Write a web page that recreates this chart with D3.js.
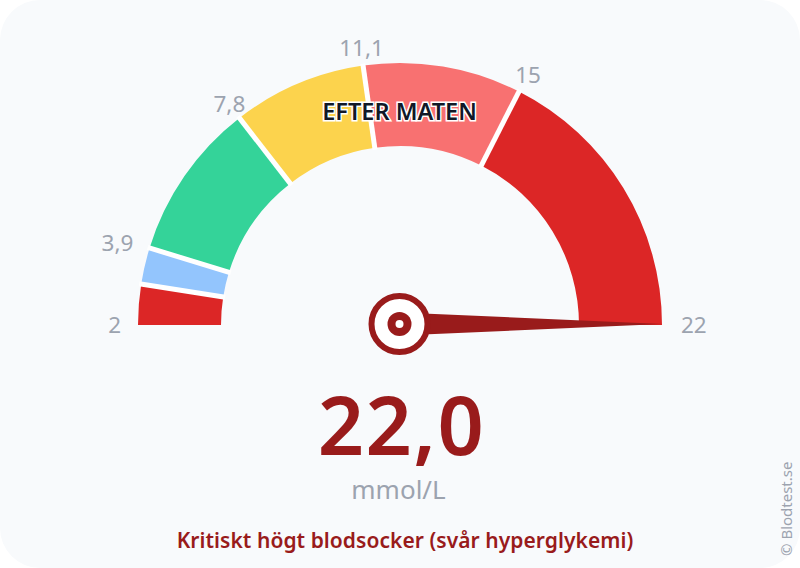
<!DOCTYPE html>
<html>
<head>
<meta charset="utf-8">
<script src="https://cdn.jsdelivr.net/npm/d3@7"></script>
<style>
html,body{margin:0;padding:0;background:#fff;}
svg{display:block;}
text{font-family:"Noto Sans",sans-serif;}
</style>
</head>
<body>
<div id="chart"></div>
<script>
var w=800;
var h=568;

// zone limits in mmol/L
var zoneLimits=[2,3,3.9,7.8,11.1,15,22];
var zoneColors=["#dc2626","#93c5fd","#34d399","#fcd34d","#f87171","#dc2626"];
var tickValues=[2,3.9,7.8,11.1,15,22];
var tickLabels=["2","3,9","7,8","11,1","15","22"];
var currentValue=22;
var currentLabel="22,0";
var unitLabel="mmol/L";
var mealLabel="EFTER MATEN";
var statusLabel="Kritiskt högt blodsocker (svår hyperglykemi)";
var creditLabel="© Blodtest.se";

var cx=400,cy=325;
var rOuter=262,rInner=179,rLabel=280;
var darkRed="#991b1b",grey="#9ca3af";

var svg=d3.select("#chart").append("svg")
 .attr("width",w)
 .attr("height",h);

svg.append("rect")
 .attr("width",w)
 .attr("height",h)
 .attr("rx",40)
 .attr("fill","#f8fafc");

var gauge=svg.append("g").attr("transform","translate("+cx+","+cy+")");

// 2 is at the far left, 22 at the far right
var angle=d3.scaleLinear()
 .domain([2,22])
 .range([-Math.PI/2,Math.PI/2]);

var arc=d3.arc()
 .innerRadius(rInner)
 .outerRadius(rOuter);

var zones=d3.pairs(zoneLimits);
gauge.selectAll(".zone")
 .data(zones)
 .enter().append("path")
 .attr("class","zone")
 .attr("fill",function(d,i){return zoneColors[i];})
 .attr("d",function(d){return arc({startAngle:angle(d[0]),endAngle:angle(d[1])});});

//white gaps between zones
gauge.selectAll(".gap")
 .data(zoneLimits.slice(1,-1))
 .enter().append("line")
 .attr("class","gap")
 .attr("stroke","#fff")
 .attr("stroke-width",5)
 .attr("x1",function(d){return Math.sin(angle(d))*(rInner-2);})
 .attr("y1",function(d){return -Math.cos(angle(d))*(rInner-2);})
 .attr("x2",function(d){return Math.sin(angle(d))*(rOuter+2);})
 .attr("y2",function(d){return -Math.cos(angle(d))*(rOuter+2);});

gauge.selectAll(".tick")
 .data(tickValues)
 .enter().append("text")
 .attr("class","tick")
 .attr("x",function(d){return Math.sin(angle(d))*rLabel+1;})
 .attr("y",function(d){return -Math.cos(angle(d))*rLabel;})
 .attr("dy","0.35em")
 .attr("font-size",22.5)
 .attr("fill",grey)
 .attr("text-anchor",function(d){
   var s=Math.sin(angle(d));
   if(s<-0.7) return "end";
   if(s>0.7) return "start";
   return "middle";
 })
 .text(function(d,i){return tickLabels[i];});

// needle
var a=angle(currentValue);
var ux=Math.sin(a),uy=-Math.cos(a);
var needle=d3.path();
needle.moveTo(-uy*11.5,ux*11.5-1);
needle.lineTo(ux*rOuter,uy*rOuter-1);
needle.lineTo(uy*11.5,-ux*11.5-1);
needle.closePath();
gauge.append("path")
 .attr("d",needle.toString())
 .attr("fill",darkRed);

gauge.append("circle").attr("cy",-1).attr("cx",-0.5).attr("r",28).attr("fill","#fff").attr("stroke",darkRed).attr("stroke-width",6);
gauge.append("circle").attr("cy",-1).attr("cx",-0.5).attr("r",12).attr("fill",darkRed);
gauge.append("circle").attr("cy",-1).attr("cx",-0.5).attr("r",4).attr("fill","#fff");

svg.append("text")
 .attr("x",399.5)
 .attr("y",120)
 .attr("text-anchor","middle")
 .attr("font-size",23.5)
 .attr("font-weight",600)
 .attr("fill","#111827")
 .attr("stroke","#fff")
 .attr("stroke-width",3)
 .attr("paint-order","stroke")
 .text(mealLabel);

svg.append("text")
 .attr("x",401.5)
 .attr("y",455)
 .attr("text-anchor","middle")
 .attr("font-size",81)
 .attr("font-weight",600)
 .attr("letter-spacing",1.5)
 .attr("fill",darkRed)
 .text(currentLabel);

svg.append("text")
 .attr("x",398.5)
 .attr("y",499)
 .attr("text-anchor","middle")
 .attr("font-size",26)
 .attr("fill",grey)
 .text(unitLabel);

svg.append("text")
 .attr("x",405)
 .attr("y",548)
 .attr("text-anchor","middle")
 .attr("font-size",21)
 .attr("font-weight",600)
 .attr("letter-spacing",0.05)
 .attr("fill",darkRed)
 .text(statusLabel);

svg.append("text")
 .attr("transform","translate(792,556) rotate(-90)")
 .attr("font-size",15)
 .attr("fill",grey)
 .text(creditLabel);
</script>
</body>
</html>
